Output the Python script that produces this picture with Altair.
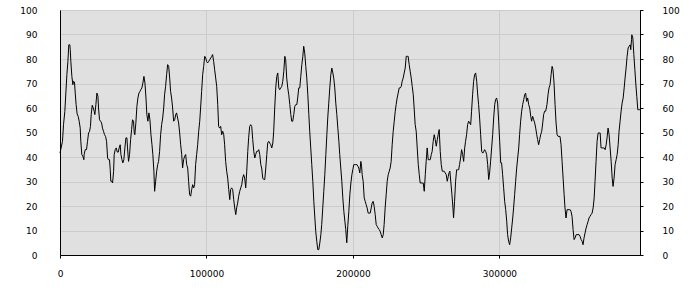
import altair as alt
import pandas as pd

# x positions in thousands, y values (0-100)
x1 = [0, 1.7, 2.4, 3.3, 4.0, 4.7, 5.4, 6.0, 6.7, 7.0, 7.4, 8.1, 8.8, 9.2, 9.9, 10.4, 11.0, 11.7, 12.4, 13.1, 13.8, 14.2, 14.9, 15.6, 16.3, 16.5, 17.2, 18.1, 18.8, 19.5, 20.2, 20.8, 21.3, 22.0, 22.7, 23.4, 23.8, 24.5, 25.2, 25.9, 26.3, 27.0, 27.7, 28.4, 29.0, 29.7, 30.4, 31.1, 31.8, 32.5, 33.1, 33.8, 34.3, 34.7, 35.4, 35.9, 36.6, 37.0, 37.7, 38.4, 39.1, 39.8, 40.4, 41.1, 41.6, 42.3, 42.9, 43.6, 44.3, 45.0, 45.7, 46.1, 46.8, 47.5, 48.2, 48.9, 49.5, 50.2, 50.7, 51.1, 51.8, 52.5, 53.2, 53.9, 54.6, 55.2, 55.9, 56.6, 57.3, 58.0, 58.7, 59.3, 60.0, 60.7, 61.4, 62.1, 62.8, 63.4, 64.1]
y1 = [41.6, 46.4, 53.2, 58.6, 66.1, 73.6, 79.0, 85.8, 85.8, 83.8, 79.0, 72.9, 69.5, 70.9, 70.6, 66.1, 61.4, 57.6, 56.6, 54.6, 51.8, 46.4, 41.0, 40.3, 38.9, 41.0, 43.0, 43.0, 46.4, 49.8, 50.5, 52.5, 57.3, 61.1, 60.0, 58.6, 57.3, 61.4, 66.1, 64.8, 60.0, 55.2, 54.6, 53.9, 51.8, 50.5, 49.1, 48.4, 46.4, 39.6, 38.9, 38.9, 34.8, 30.1, 30.1, 29.4, 34.2, 41.0, 43.0, 43.7, 42.0, 42.0, 43.7, 45.0, 41.0, 38.9, 37.6, 38.9, 43.7, 47.8, 47.8, 43.7, 38.2, 41.0, 47.1, 51.2, 55.2, 54.6, 49.8, 49.1, 53.9, 60.7, 64.1, 66.1, 66.8, 67.5, 68.2, 70.2, 72.9, 70.2, 64.1, 57.3, 54.6, 58.0, 55.2, 49.1, 45.0, 41.0, 34.2]

x2 = [64.6, 65.3, 66.0, 66.7, 67.3, 68.0, 68.7, 69.4, 70.1, 70.8, 71.4, 72.1, 72.8, 73.5, 74.2, 74.9, 75.5, 76.2, 76.9, 77.6, 78.3, 79.0, 79.6, 80.3, 81.0, 81.7, 82.4, 83.1, 83.7, 84.4, 85.1, 85.8, 86.5, 87.2, 87.8, 88.5, 89.2, 89.9, 90.6, 91.3, 91.9, 92.6, 93.3, 94.0, 94.7, 95.4, 96.0, 96.7, 97.4, 98.1, 98.8, 99.5, 100.1, 100.8, 101.5, 102.2, 102.9, 103.6, 104.2, 104.9, 105.6, 106.3, 107.0, 107.7, 108.3, 109.0, 109.7, 110.4, 111.1, 111.8, 112.4, 113.1, 113.8, 114.5, 115.2, 115.9, 116.5, 117.2, 117.9, 118.6, 119.3, 120.0, 120.6, 121.3, 122.0, 122.7, 123.4, 124.1, 124.7, 125.4, 126.1, 126.8, 127.5, 128.2, 128.8, 129.5, 130.2]
y2 = [26.0, 30.1, 34.2, 36.9, 38.2, 42.3, 49.1, 53.2, 55.9, 60.0, 65.4, 68.8, 73.6, 77.7, 77.0, 72.2, 66.8, 64.1, 60.0, 54.6, 55.2, 57.3, 58.0, 55.9, 53.9, 49.8, 45.0, 41.0, 35.5, 38.9, 40.3, 41.0, 36.9, 35.5, 30.1, 24.6, 24.0, 26.7, 28.7, 27.4, 28.7, 36.9, 41.0, 45.0, 50.5, 54.6, 60.0, 66.8, 73.6, 77.0, 81.1, 80.4, 79.0, 78.4, 79.0, 79.7, 80.4, 81.1, 81.8, 79.0, 75.6, 72.2, 68.8, 61.4, 52.5, 51.8, 52.5, 49.1, 50.5, 49.1, 45.0, 38.2, 34.2, 31.4, 26.7, 22.6, 26.7, 27.4, 26.7, 22.6, 19.2, 16.5, 19.2, 21.2, 24.0, 26.0, 27.4, 28.7, 31.4, 32.8, 31.4, 27.4, 34.2, 42.3, 47.8, 52.5, 53.2]

x3 = [130.9, 131.6, 132.3, 133.0, 133.6, 134.3, 135.0, 135.7, 136.4, 137.1, 137.7, 138.4, 139.1, 139.8, 140.5, 141.2, 141.8, 142.5, 143.2, 143.9, 144.6, 145.3, 145.9, 146.6, 147.3, 148.0, 148.7, 149.4, 150.0, 150.7, 151.4, 152.1, 152.8, 153.5, 154.1, 154.8, 155.5, 156.2, 156.9, 157.6, 158.2, 158.9, 159.6, 160.3, 161.0, 161.7, 162.3, 163.0, 163.7, 164.4, 165.1, 165.8, 166.4, 167.1, 167.8, 168.5, 169.2, 169.9, 170.5, 171.2, 171.9, 172.6, 173.3, 174.0, 174.6, 175.3, 176.0, 176.7, 177.4, 178.1, 178.7, 179.4, 180.1, 180.8, 181.5, 182.2, 182.8, 183.5, 184.2, 184.9, 185.6, 186.3, 186.9, 187.6, 188.3, 189.0, 189.7, 190.4, 191.0, 191.7, 192.4, 193.1, 193.8, 194.5, 195.1, 195.8, 196.5]
y3 = [52.5, 47.1, 42.3, 39.6, 41.0, 42.3, 42.3, 43.0, 41.0, 36.9, 35.5, 31.4, 30.8, 30.8, 35.5, 41.0, 45.7, 46.4, 45.7, 45.0, 43.7, 45.7, 50.5, 60.0, 68.2, 72.9, 74.3, 68.2, 67.5, 68.2, 68.8, 70.9, 75.0, 81.1, 79.7, 72.2, 68.2, 65.4, 61.4, 57.3, 54.6, 54.6, 57.3, 60.7, 61.4, 61.4, 64.1, 68.2, 68.2, 72.9, 77.7, 81.1, 85.2, 82.4, 77.0, 72.2, 65.4, 57.3, 50.5, 43.7, 36.9, 30.1, 21.9, 15.1, 9.7, 5.6, 2.2, 2.2, 4.9, 8.3, 12.4, 19.2, 26.0, 32.8, 41.0, 49.1, 55.9, 62.0, 68.2, 73.6, 76.3, 74.3, 72.2, 68.2, 62.0, 57.3, 51.8, 46.4, 41.0, 35.5, 30.1, 23.3, 17.8, 13.8, 10.4, 5.0, 12.0]

x4 = [197.2, 197.9, 198.6, 199.3, 199.9, 200.6, 201.3, 202.0, 202.7, 203.4, 204.0, 204.7, 205.4, 205.9, 206.3, 207.0, 207.7, 208.4, 209.0, 209.7, 210.4, 211.1, 211.8, 212.5, 213.1, 213.8, 214.5, 215.2, 215.9, 216.6, 217.2, 217.9, 218.6, 219.3, 220.0, 220.7, 221.3, 222.0, 222.7, 223.4, 224.1, 224.8, 225.4, 226.1, 226.8, 227.5, 228.2, 228.9, 229.5, 230.2, 230.9, 231.6, 232.3, 233.0, 233.6, 234.3, 235.0, 235.7, 236.4, 237.1, 237.7, 238.4, 239.1, 239.8, 240.5, 241.2, 241.8, 242.5, 243.2, 243.9, 244.6, 245.3, 245.9, 246.6, 247.3, 248.0, 248.7, 249.4, 250.0, 250.7, 251.4, 252.1, 252.8, 253.5, 254.1, 254.8, 255.5, 256.2, 256.9, 257.6, 258.2, 258.9, 259.6, 260.3, 261.0, 261.7, 262.3, 263.0, 263.7, 264.4, 265.1]
y4 = [17.8, 24.6, 29.4, 32.8, 34.8, 36.9, 36.9, 36.9, 36.9, 36.2, 35.5, 33.5, 38.2, 36.2, 32.8, 30.1, 23.3, 21.9, 20.6, 19.2, 17.1, 17.1, 17.1, 19.2, 21.2, 21.9, 19.9, 16.5, 12.4, 11.7, 11.0, 10.4, 9.7, 8.3, 7.0, 8.3, 12.4, 19.2, 24.6, 30.1, 32.8, 34.2, 35.5, 38.2, 45.0, 50.5, 54.6, 58.7, 61.4, 64.1, 66.1, 68.2, 68.2, 68.8, 70.9, 72.2, 74.3, 76.3, 81.1, 81.1, 81.1, 77.7, 75.0, 72.2, 68.8, 65.4, 60.0, 53.2, 50.5, 43.7, 36.9, 32.8, 29.4, 29.4, 29.4, 29.4, 26.0, 32.8, 38.2, 43.7, 38.9, 38.9, 38.9, 41.0, 42.3, 46.4, 49.1, 47.1, 44.4, 47.1, 49.1, 51.2, 42.3, 36.9, 34.2, 34.2, 34.2, 33.5, 32.8, 30.1, 32.1]

x5 = [265.6, 266.2, 266.9, 267.6, 268.3, 268.7, 269.4, 270.1, 270.8, 271.5, 272.2, 272.8, 273.5, 274.2, 274.9, 275.6, 276.3, 276.9, 277.6, 278.3, 279.0, 279.7, 280.4, 281.0, 281.7, 282.4, 283.1, 283.8, 284.5, 285.1, 285.8, 286.5, 287.2, 287.9, 288.6, 289.2, 289.9, 290.6, 291.3, 292.0, 292.7, 293.3, 294.0, 294.7, 295.4, 296.1, 296.8, 297.4, 298.1, 298.8, 299.5, 300.2, 300.9, 301.5, 302.2, 302.9, 303.6, 304.3, 305.0, 305.6, 306.3, 307.0, 307.7, 308.4, 309.1, 309.7, 310.4, 311.1, 311.8, 312.5, 313.2, 313.8, 314.5, 315.2, 315.9, 316.6, 317.3, 317.9, 318.6, 319.3, 320.0, 320.7, 321.4, 322.0, 322.7, 323.4, 324.1, 324.8, 325.5, 326.1, 326.8, 327.5, 328.2, 328.9, 329.6, 330.2, 330.9, 331.6]
y5 = [33.5, 34.2, 29.4, 24.6, 19.2, 15.1, 21.9, 30.1, 34.8, 34.8, 34.8, 36.9, 39.6, 43.0, 41.0, 38.2, 43.7, 46.4, 49.1, 53.2, 54.6, 53.9, 53.2, 58.7, 65.4, 70.9, 73.6, 74.3, 70.9, 66.1, 61.4, 55.9, 49.1, 42.3, 41.6, 42.0, 43.0, 42.3, 41.0, 36.9, 30.8, 33.5, 38.2, 43.7, 49.1, 55.9, 61.4, 63.4, 64.1, 62.0, 54.6, 46.4, 37.6, 37.6, 32.8, 27.4, 21.9, 18.5, 13.8, 8.3, 5.6, 4.2, 7.0, 11.0, 15.1, 19.2, 24.6, 30.1, 35.5, 39.6, 43.7, 49.1, 54.6, 58.7, 61.4, 63.4, 65.4, 66.1, 62.7, 64.1, 61.4, 60.0, 56.6, 54.6, 56.6, 55.2, 53.9, 51.8, 49.1, 47.1, 45.0, 47.1, 49.1, 50.5, 53.9, 57.3, 58.7, 58.7]

x6 = [332.5, 333.2, 333.9, 334.6, 335.3, 336.0, 336.6, 337.3, 338.0, 338.7, 339.4, 340.1, 340.7, 341.4, 342.1, 342.8, 343.5, 344.2, 344.8, 345.5, 346.2, 346.9, 347.6, 348.3, 348.9, 349.6, 350.3, 351.0, 351.7, 352.4, 353.0, 353.7, 354.4, 355.1, 355.8, 356.5, 357.1, 357.8, 358.5, 359.2, 359.9, 360.6, 361.2, 361.9, 362.6, 363.3, 364.0, 364.7, 365.3, 366.0, 366.7, 367.4, 368.1, 368.8, 369.4, 370.1, 370.8, 371.5, 372.2, 372.9, 373.5, 374.2, 374.9, 375.6, 376.3, 377.0, 377.6, 378.3, 379.0, 379.7, 380.4, 381.1, 381.7, 382.4, 383.1, 383.8, 384.5, 385.2, 385.8, 386.5, 387.2, 387.9, 388.6, 389.3, 389.7, 390.2, 390.4, 391.1, 391.8, 392.5, 393.1, 393.8, 394.5, 395.2, 395.9]
y6 = [61.4, 65.4, 68.2, 69.5, 73.6, 77.0, 75.6, 70.2, 61.4, 53.9, 49.1, 48.4, 48.4, 48.4, 45.0, 38.2, 31.4, 24.6, 19.2, 15.1, 18.5, 18.5, 18.5, 18.5, 17.8, 15.8, 10.4, 6.3, 7.0, 8.3, 8.3, 8.3, 8.3, 7.6, 6.3, 5.6, 4.2, 7.0, 9.0, 11.0, 12.4, 13.8, 15.1, 15.8, 16.5, 17.1, 19.2, 23.3, 30.1, 38.2, 46.4, 49.8, 49.8, 49.8, 43.7, 43.7, 43.7, 43.7, 43.0, 45.0, 47.8, 51.8, 49.1, 43.7, 38.2, 31.4, 28.0, 31.4, 36.9, 38.9, 41.0, 45.0, 50.5, 54.6, 58.7, 62.0, 64.1, 68.2, 72.2, 76.3, 81.1, 84.5, 85.2, 85.8, 83.8, 87.9, 89.9, 88.6, 81.8, 75.6, 70.2, 64.8, 59.3, 59.3, 59.3]

x_ticks = [0, 100000, 200000, 300000]
y_ticks = [0, 10, 20, 30, 40, 50, 60, 70, 80, 90, 100]

xs_k, ys = [], []
for xa, ya in [(x1, y1), (x2, y2), (x3, y3), (x4, y4), (x5, y5), (x6, y6)]:
    n = min(len(xa), len(ya))
    xs_k += xa[:n]
    ys += ya[:n]

df = pd.DataFrame({"x": [round(v * 1000) for v in xs_k], "y": ys})

FONT = "DejaVu Sans"
GRID = "#cccccc"
xscale = alt.Scale(domain=[0, 396000], nice=False, zero=False)
yscale = alt.Scale(domain=[0, 100], nice=False)

x_axis = alt.Axis(
    values=x_ticks, format="d", grid=True, gridColor=GRID, gridWidth=1,
    domainColor="black", tickColor="black", tickSize=3, labelPadding=11,
    labelFlush=False, title=None)

main = alt.Chart(df).mark_line(color="black", strokeWidth=1).encode(
    x=alt.X("x:Q", scale=xscale, axis=x_axis),
    y=alt.Y("y:Q", scale=yscale, axis=alt.Axis(
        orient="left", values=y_ticks, grid=True, gridColor=GRID, gridWidth=1,
        ticks=False, tickSize=0, labelPadding=23, domainColor="black", title=None)),
)

right = alt.Chart(df).mark_line(opacity=0).encode(
    x=alt.X("x:Q", scale=xscale, axis=x_axis),
    y=alt.Y("y:Q", scale=yscale, axis=alt.Axis(
        orient="right", values=y_ticks, grid=False, tickSize=3, tickColor="black",
        labelPadding=19, domainColor="black", title=None)),
)

chart = alt.layer(main, right).resolve_axis(y="independent").properties(
    width=580, height=245,
    padding={"left": 60, "top": 10, "right": 60, "bottom": 45},
    autosize="none",
    background="white",
).configure_view(
    fill="#e0e0e0", stroke="black", strokeWidth=1
).configure_axis(
    labelFont=FONT, labelFontSize=9, labelColor="black"
)

chart.save("out.html", embed_options={"renderer": "svg", "actions": False})
